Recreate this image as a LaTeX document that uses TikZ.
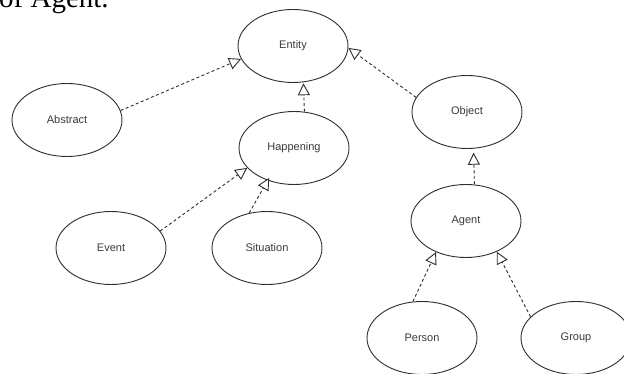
\documentclass[tikz,border=0pt]{standalone}
\usepackage{fontspec}
\setmainfont{Liberation Sans}
\newfontfamily\serifcap{Liberation Serif}
\usetikzlibrary{shapes.geometric,arrows.meta}
\definecolor{linegray}{HTML}{2E2E2E}
\definecolor{textgray}{HTML}{3A3A3A}
\tikzset{
  concept/.style={ellipse, draw=linegray, line width=0.9pt, minimum width=110pt, minimum height=73pt, inner sep=0pt, font=\fontsize{11}{13}\selectfont, text=textgray},
  isa/.style={draw=linegray, line width=0.9pt, dash pattern=on 3pt off 2.5pt, -{Triangle[open, length=12pt, width=12pt, fill=white]}}
}
\begin{document}
\begin{tikzpicture}[x=1pt,y=-1pt]
\useasboundingbox (0,0) rectangle (624,374);
\clip (0,0) rectangle (624,374);
\fill[white] (0,0) rectangle (624,374);
\node[anchor=base west, inner sep=0pt, font=\serifcap\fontsize{29}{30}\selectfont] (cap) at (-1,8) {of Agent.};
\node[concept] (entity) at (293,46) {Entity};
\node[concept] (abstract) at (67,120) {Abstract};
\node[concept] (happening) at (294,148) {Happening};
\node[concept] (object) at (467,112) {Object};
\node[concept] (event) at (111,248) {Event};
\node[concept] (situation) at (267,248) {Situation};
\node[concept] (agent) at (466,221) {Agent};
\node[concept] (person) at (422,338) {Person};
\node[concept] (group) at (576,338) {Group};
\draw[isa] (abstract.10) -- (entity.194);
\draw[isa, shorten >=1pt] (happening.74) -- (entity.286);
\draw[isa] (object.164) -- (entity.358);
\draw[isa] (event.19) -- (happening.203);
\draw[isa, shorten >=-3pt] (situation.117) -- (happening.231);
\draw[isa, shorten >=4pt] (agent.77) -- (object.280);
\draw[isa] (person.104) -- (agent.226);
\draw[isa] (group.155) -- (agent.315);
\end{tikzpicture}
\end{document}
